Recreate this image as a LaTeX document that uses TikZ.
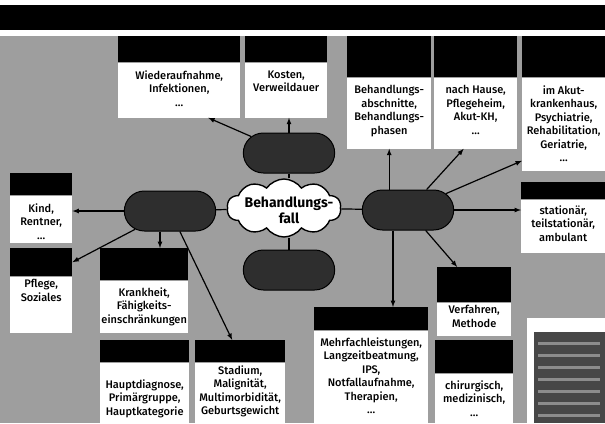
\documentclass[tikz,border=0pt]{standalone}
\usepackage{fontspec}
\setmainfont{Fira Sans}[UprightFont=* Medium, BoldFont=* Bold]
\usetikzlibrary{arrows}
\usetikzlibrary{shapes.misc,shapes.symbols}

\tikzset{
	cardhead/.style={fill=black, inner sep=0, anchor=north west},
	cardbody/.style={fill=white, inner sep=0, anchor=north west},
	cardtext/.style={align=center, inner sep=0, anchor=north, font=\fontsize{11}{13.5}\selectfont},
	pill/.style={rounded rectangle, draw=black, line width=1pt, fill=black!82, minimum width=98, minimum height=40},
	link/.style={line width=1.2pt, ->, >=latex},
	plainlink/.style={line width=1.2pt},
}

% name, top left corner, width, header height, body height, text gap, text
\newcommand{\drawCard}[7]{
	\node[cardhead, minimum width=#3, minimum height=#4] (#1H) at (#2) {};
	\node[cardbody, minimum width=#3, minimum height=#5] (#1) at (#1H.south west) {};
	\node[cardtext] (#1T) at ([yshift=-#6]#1.north) {#7};
}

\begin{document}
\begin{tikzpicture}[x=1pt, y=-1pt]

		\useasboundingbox (0,0) rectangle (605,423);
		\clip (0,0) rectangle (605,423);
		\fill[white] (0,0) rectangle (605,423);
		\fill[black] (0,5) rectangle (605,30);
		\fill[black!38] (0,36) rectangle (605,423);

		% top row
		\drawCard{wieder}{118,36}{122}{26}{55}{8}{Wiederaufnahme,\\Infektionen,\\...}
		\drawCard{kosten}{245,36}{82}{26}{55}{8}{Kosten,\\Verweildauer}
		\drawCard{abschnitte}{347,36}{84}{41}{71}{8}{Behandlungs-\\abschnitte,\\Behandlungs-\\phasen}
		\drawCard{nachhause}{434,36}{83}{41}{71}{8}{nach Hause,\\Pflegeheim,\\Akut-KH,\\...}
		\drawCard{akut}{522,36}{83}{41}{93}{8}{im Akut-\\krankenhaus,\\Psychiatrie,\\Rehabilitation,\\Geriatrie,\\...}

		% sides
		\drawCard{station}{521,182}{84}{17}{53}{6}{station\"ar,\\teilstation\"ar,\\ambulant}
		\drawCard{kind}{10,173}{62}{22}{47}{8}{Kind,\\Rentner,\\...}
		\drawCard{pflege}{10,248}{62}{28}{56}{3}{Pflege,\\Soziales}

		% bottom row
		\drawCard{krank}{100,248}{88}{32}{52}{7}{Krankheit,\\F\"ahigkeits-\\einschr\"ankungen}
		\drawCard{haupt}{100,340}{89}{22}{70}{17}{Hauptdiagnose,\\Prim\"argruppe,\\Hauptkategorie}
		\drawCard{stadium}{195,340}{90}{22}{70}{3}{Stadium,\\Malignit\"at,\\Multimorbidit\"at,\\Geburtsgewicht}
		\drawCard{mehrfach}{314,307}{114}{23}{100}{7}{Mehrfachleistungen,\\Langzeitbeatmung,\\IPS,\\Notfallaufnahme,\\Therapien,\\...}
		\drawCard{verfahren}{437,267}{74}{35}{33}{3}{Verfahren,\\Methode}
		\drawCard{chirurg}{435,340}{78}{33}{90}{7}{chirurgisch,\\medizinisch,\\...}

		% source panel
		\fill[white] (527,318) rectangle (605,423);
		\fill[black!72] (534,332) rectangle (605,423);
		\foreach \y in {342,354,366,378,390,402,414}
			\fill[black!45] (538,\y) rectangle (600,\y+3);

		% centre
		\node[pill] (pillTop) at (289,153) {};
		\node[pill] (pillLeft) at (170,211) {};
		\node[pill] (pillRight) at (408,210) {};
		\node[pill] (pillBottom) at (289,270) {};
		\node[cloud, cloud puffs=10, cloud puff arc=110, cloud ignores aspect, draw=black, line width=1.4pt, fill=white,
			minimum width=114, minimum height=58, inner sep=0] (fall) at (284,208) {};
		\node[align=center, inner sep=0, font=\fontsize{14}{16}\bfseries\selectfont] (fallT) at (289,210) {Behandlungs-\\fall};

		\draw[plainlink] (pillTop.south) -- (pillTop.south |- fall.north);
		\draw[plainlink] (pillBottom.north) -- (pillBottom.north |- fall.south);
		\draw[plainlink] (fall) -- (pillLeft);
		\draw[plainlink] (fall) -- (pillRight);

		\draw[link] (pillTop) -- ([xshift=29]wieder.south);
		\draw[link] (pillTop.north) -- (pillTop.north |- kosten.south);

		\draw[link] (abschnitte.south |- pillRight.north) -- (abschnitte.south);
		\draw[link] (pillRight) -- ([xshift=-12]nachhause.south);
		\draw[link] (pillRight) -- ([yshift=10]akut.south west);
		\draw[link] (pillRight.east) -- (pillRight.east -| station.west);
		\draw[link] (pillRight) -- ([xshift=-17]verfahrenH.north);
		\draw[link] ([xshift=-15]pillRight.south) -- ([xshift=-15]pillRight.south |- mehrfachH.north);

		\draw[link] (pillLeft.west) -- (pillLeft.west -| kind.east);
		\draw[link] (pillLeft) -- (pflegeH.east);
		\draw[link] ([xshift=-10]pillLeft.south) -- ([xshift=-10]pillLeft.south |- krankH.north);
		\draw[link] (pillLeft) -- ([xshift=-8]stadiumH.north);

	\end{tikzpicture}
\end{document}
